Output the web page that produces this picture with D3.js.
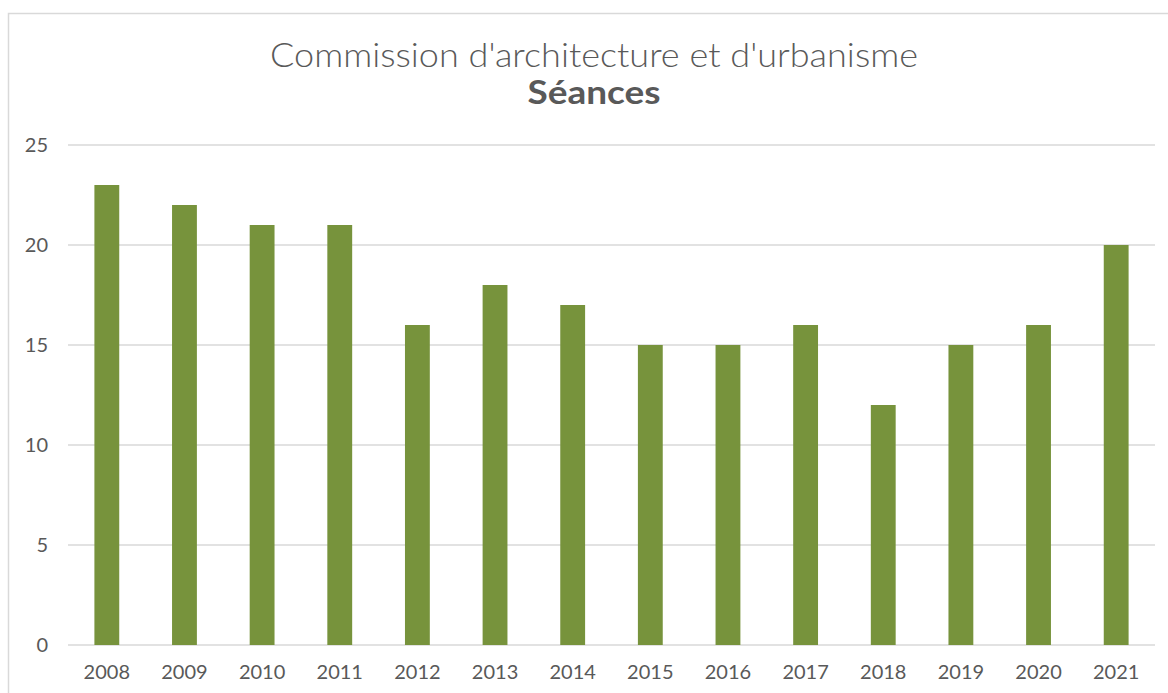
<!DOCTYPE html>
<html>
<head>
<meta charset="utf-8">
<script src="https://cdnjs.cloudflare.com/ajax/libs/d3/7.8.5/d3.min.js"></script>
<style>
  body { margin: 0; background: #fff; }
  svg text { font-family: Lato, "Noto Sans", sans-serif; fill: #595959; }
</style>
</head>
<body>
<svg id="chart" width="1168" height="693"></svg>
<script>
const years = ['2008', '2009', '2010', '2011', '2012', '2013', '2014',
               '2015', '2016', '2017', '2018', '2019', '2020', '2021'];
const seances = [23, 22, 21, 21, 16, 18, 17, 15, 15, 16, 12, 15, 16, 20];
const yTicks = [0, 5, 10, 15, 20, 25];

const svg = d3.select('#chart');

// chart frame (runs off the right and bottom of the window)
svg.append('rect')
    .attr('x', 8.5).attr('y', 13.5)
    .attr('width', 1200).attr('height', 720)
    .attr('fill', 'none')
    .attr('stroke', '#d9d9d9')
    .attr('stroke-width', 1.5);

const plotLeft = 68, plotRight = 1155, plotTop = 145, plotBottom = 645;

const x = d3.scaleBand()
    .domain(years)
    .range([plotLeft, plotRight])
    .paddingInner(0.68)
    .paddingOuter(0.34);

const y = d3.scaleLinear()
    .domain([0, 25])
    .range([plotBottom, plotTop]);

// gridlines
svg.append('g')
    .selectAll('line')
    .data(yTicks)
    .enter().append('line')
        .attr('x1', plotLeft).attr('x2', plotRight)
        .attr('y1', d => y(d)).attr('y2', d => y(d))
        .attr('stroke', '#d9d9d9')
        .attr('stroke-width', 1.5);

// bars
svg.append('g')
    .selectAll('rect')
    .data(seances)
    .enter().append('rect')
        .attr('x', (d, i) => x(years[i]))
        .attr('y', d => y(d))
        .attr('width', x.bandwidth())
        .attr('height', d => y(0) - y(d))
        .attr('fill', '#77933c');

// y axis labels
const yAxis = svg.append('g')
    .attr('transform', `translate(${plotLeft - 20},0)`)
    .call(d3.axisLeft(y).tickValues(yTicks).tickSize(0).tickPadding(0));
yAxis.select('.domain').remove();
yAxis.selectAll('text')
    .attr('font-size', 20)
    .style('font-family', 'Lato, "Noto Sans", sans-serif')
    .attr('fill', '#595959');

// x axis labels
const xAxis = svg.append('g')
    .attr('transform', `translate(0,${plotBottom + 20})`)
    .call(d3.axisBottom(x).tickSize(0).tickPadding(0));
xAxis.select('.domain').remove();
xAxis.selectAll('text')
    .attr('font-size', 20)
    .style('font-family', 'Lato, "Noto Sans", sans-serif')
    .attr('fill', '#595959');

// title
svg.append('text')
    .attr('x', 594).attr('y', 67)
    .attr('text-anchor', 'middle')
    .attr('font-size', 34)
    .attr('font-weight', 300)
    .attr('textLength', 648)
    .attr('lengthAdjust', 'spacingAndGlyphs')
    .text("Commission d'architecture et d'urbanisme");

svg.append('text')
    .attr('x', 594).attr('y', 104)
    .attr('text-anchor', 'middle')
    .attr('font-size', 33)
    .attr('font-weight', 'bold')
    .attr('textLength', 133)
    .attr('lengthAdjust', 'spacingAndGlyphs')
    .text('Séances');
</script>
</body>
</html>
